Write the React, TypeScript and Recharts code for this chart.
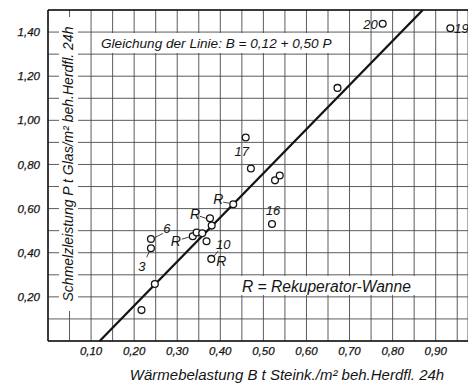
import { CartesianGrid, ReferenceLine, Scatter, ScatterChart, XAxis, YAxis } from "recharts";

// Wärmebelastung B (x) and Schmelzleistung P (y) per Wanne
const bValues = [0.217, 0.248, 0.239, 0.239, 0.336, 0.345, 0.358, 0.368, 0.376, 0.38, 0.379, 0.43, 0.459, 0.471, 0.52, 0.527, 0.538, 0.672, 0.777, 0.934];
const pValues = [0.14, 0.258, 0.42, 0.462, 0.475, 0.492, 0.488, 0.452, 0.556, 0.523, 0.372, 0.62, 0.922, 0.782, 0.53, 0.728, 0.75, 1.147, 1.438, 1.417];
const numberLabels = ["", "", "3", "6", "", "", "", "", "", "", "10", "", "17", "", "16", "", "", "", "20", "19"];
const rekuperator = [false, false, false, false, true, false, false, false, true, false, true, true, false, false, false, false, false, false, false, false];

const xTicks = [0.05, 0.1, 0.15, 0.2, 0.25, 0.3, 0.35, 0.4, 0.45, 0.5, 0.55, 0.6, 0.65, 0.7, 0.75, 0.8, 0.85, 0.9, 0.95];
const xLabelTicks = [0.1, 0.2, 0.3, 0.4, 0.5, 0.6, 0.7, 0.8, 0.9];
const xTickLabels = ["0,10", "0,20", "0,30", "0,40", "0,50", "0,60", "0,70", "0,80", "0,90"];
const yTicks = [0.1, 0.2, 0.3, 0.4, 0.5, 0.6, 0.7, 0.8, 0.9, 1.0, 1.1, 1.2, 1.3, 1.4, 1.5];
const yLabelTicks = [0.2, 0.4, 0.6, 0.8, 1.0, 1.2, 1.4];
const yTickLabels = ["0,20", "0,40", "0,60", "0,80", "1,00", "1,20", "1,40"];

// Gleichung der Linie: B = 0,12 + 0,50 P
const lineIntercept = 0.12;
const lineSlope = 0.5;
const lineP = [0, 1.5];

const data = bValues.map((b, i) => ({ b, p: pValues[i], idx: i }));
const linePoints = lineP.map((p) => ({ x: lineIntercept + lineSlope * p, y: p }));

const FONT = "'Liberation Sans', Arial, sans-serif";
const INK = "#141414";

// where the annotations sit around each circle (pixels from centre)
const numberPlace: Record<string, { dx: number; dy: number; anchor: "start" | "middle" | "end"; leader?: number[] }> = {
  "3": { dx: -9, dy: 23, anchor: "middle", leader: [-1.7, 3.5, -4.3, 9] },
  "6": { dx: 16, dy: -6, anchor: "middle", leader: [4, -1.6, 12, -5.6] },
  "10": { dx: 12, dy: -10, anchor: "middle", leader: [3, -3, 7, -8] },
  "17": { dx: -4, dy: 18, anchor: "middle" },
  "16": { dx: 1, dy: -9, anchor: "middle" },
  "20": { dx: -5, dy: 5, anchor: "end" },
  "19": { dx: 4, dy: 5, anchor: "start" },
};
const rPlace: Record<number, { dx: number; dy: number; leader?: number[] }> = {
  4: { dx: -17, dy: 10, leader: [-11, 3, -4, 1] },
  8: { dx: -15, dy: 1, leader: [-10, -2, -4, 0] },
  10: { dx: 10, dy: 7 },
  11: { dx: -15, dy: 0, leader: [-10, -2, -4, -1] },
};

function fmt(ticks: number[], labels: string[]) {
  return (v: number) => {
    const i = ticks.findIndex((t) => Math.abs(t - v) < 1e-6);
    return i >= 0 ? labels[i] : "";
  };
}

function PointShape(props: any) {
  const { cx, cy, payload } = props;
  const i = payload.idx;
  const num = numberLabels[i];
  const np = num ? numberPlace[num] : null;
  const rp = rekuperator[i] ? rPlace[i] : null;
  const textStyle = { fontFamily: FONT, fontStyle: "italic", fontSize: 13, fill: INK };
  return (
    <g>
      <circle cx={cx} cy={cy} r={3.4} fill="#fff" stroke={INK} strokeWidth={1.3} />
      {np && (
        <text x={cx + np.dx} y={cy + np.dy} textAnchor={np.anchor} style={textStyle}>
          {num}
        </text>
      )}
      {np?.leader && (
        <line x1={cx + np.leader[0]} y1={cy + np.leader[1]} x2={cx + np.leader[2]} y2={cy + np.leader[3]} stroke={INK} strokeWidth={0.8} />
      )}
      {rp && (
        <text x={cx + rp.dx} y={cy + rp.dy} textAnchor="middle" style={{ ...textStyle, fontSize: 14 }}>
          R
        </text>
      )}
      {rp?.leader && (
        <line x1={cx + rp.leader[0]} y1={cy + rp.leader[1]} x2={cx + rp.leader[2]} y2={cy + rp.leader[3]} stroke={INK} strokeWidth={0.8} />
      )}
    </g>
  );
}

export default function App() {
  const tickStyle = { fontFamily: FONT, fontStyle: "italic", fontSize: 11.5, fill: INK, stroke: INK, strokeWidth: 0.25 };
  const boxText = { fontFamily: FONT, fontStyle: "italic", fill: INK } as const;
  return (
    <div style={{ position: "absolute", left: 0, top: 0, width: 468, height: 383, background: "#fff" }}>
      <ScatterChart width={468} height={383} margin={{ top: 10, right: 0, bottom: 0, left: 0 }}>
        <CartesianGrid stroke="#4a4a4a" strokeWidth={0.9} />
        <XAxis
          type="number"
          dataKey="b"
          domain={[0, 0.975]}
          ticks={xTicks}
          tickFormatter={fmt(xLabelTicks, xTickLabels)}
          tick={tickStyle}
          tickLine={false}
          tickSize={4}
          axisLine={{ stroke: INK, strokeWidth: 1.5 }}
          height={42}
          interval={0}
        />
        <YAxis
          type="number"
          dataKey="p"
          domain={[0, 1.5]}
          ticks={yTicks}
          tickFormatter={fmt(yLabelTicks, yTickLabels)}
          tick={tickStyle}
          tickLine={false}
          tickSize={6}
          axisLine={{ stroke: INK, strokeWidth: 1.5 }}
          width={48}
          interval={0}
        />
        <ReferenceLine segment={linePoints} stroke={INK} strokeWidth={2.3} />
        <Scatter data={data} shape={<PointShape />} isAnimationActive={false} />
      </ScatterChart>
      <svg width={468} height={383} style={{ position: "absolute", left: 0, top: 0, pointerEvents: "none" }}>
        <line x1={48} y1={10} x2={468} y2={10} stroke={INK} strokeWidth={1.5} />
        <rect x={97} y={33} width={237} height={20} fill="#fff" />
        <text x={101} y={48} style={{ ...boxText, fontSize: 13.6 }}>
          Gleichung der Linie:  B = 0,12 + 0,50 P
        </text>
        <rect x={239} y={276} width={183} height={19} fill="#fff" />
        <text x={242} y={292} style={{ ...boxText, fontSize: 15.6 }}>
          R = Rekuperator-Wanne
        </text>
        <rect x={59} y={17} width={19} height={294} fill="#fff" />
        <text
          x={0}
          y={0}
          transform="translate(73 164) rotate(-90)"
          textAnchor="middle"
          style={{ ...boxText, fontSize: 14 }}
        >
          Schmelzleistung P  t Glas/m² beh.Herdfl. 24h
        </text>
        <text x={287} y={380} textAnchor="middle" style={{ ...boxText, fontSize: 15 }}>
          Wärmebelastung B  t Steink./m² beh.Herdfl. 24h
        </text>
      </svg>
    </div>
  );
}
